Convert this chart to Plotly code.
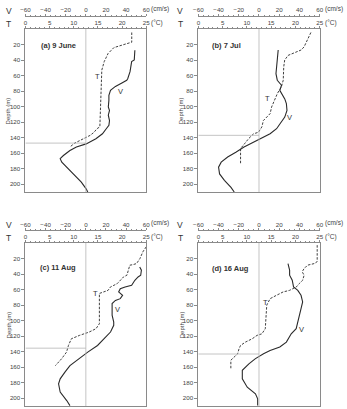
import plotly.graph_objects as go

# ---------------- data ----------------
panel_titles = ["(a) 9 June", "(b) 7 Jul", "(c) 11 Aug", "(d) 16 Aug"]

T_a_depth = [4.5, 17, 19.6, 24, 31.6, 42, 53, 75, 92, 113, 126, 128.5, 133, 137, 141.4, 147, 152]
T_a = [22, 22, 20.6, 18.3, 17.1, 16.3, 15.8, 15.7, 15.6, 15.5, 15.4, 14.8, 14.2, 13.4, 11.9, 10.2, 9.2]
V_a_depth = [27.3, 40, 42, 49, 55, 64, 66, 69.5, 74, 79, 85.5, 92, 100.5, 105, 111, 118, 124,
             128.5, 135, 141.4, 148, 152, 156.5, 163, 167, 171.6, 178, 189, 197.4, 206, 210]
V_a = [48.7, 48.1, 45.5, 44.8, 43.9, 41.6, 40.6, 35.8, 29.4, 24.5, 22.9, 22.9, 22.3, 23.5, 22.3, 23.5, 22.9,
       20.3, 16.5, 10, 0.3, -9.4, -15.8, -22.3, -25.5, -23.9, -19, -11, -4.5, 0.3, 1.9]

T_b_depth = [4.5, 10, 16.5, 23, 27, 31, 34, 40, 49, 66, 74.7, 83, 92, 100.5, 109, 113, 118, 126,
             133, 135, 141, 148, 154, 161, 174]
T_b = [23.2, 22.8, 22.3, 21.8, 21.2, 19.8, 18.5, 17.8, 17.6, 17.5, 17.1, 16.3, 15.6, 15.1, 14.8, 14.1,
       13.4, 13.1, 12.4, 11.4, 10.4, 9.5, 8.7, 8.7, 8.7]
V_b_depth = [27, 40, 57.5, 66, 72.5, 79, 83, 90, 96, 105, 113.5, 120, 128.5, 135, 141.4, 146, 152,
             158.7, 165, 171.6, 178, 186.7, 195, 204, 210]
V_b = [19, 18.1, 16.8, 18.1, 22.3, 20.6, 22.3, 25.5, 27.1, 27.7, 25.5, 22.3, 17.4, 11, 1.3, -5.2, -14.8,
       -22.9, -31, -37.4, -40, -39, -34.2, -27.7, -24.5]

T_c_depth = [4.9, 11.4, 20, 26.5, 27.8, 28.6, 35, 41.5, 43.7, 48, 52.3, 54.5, 56.6, 61, 63, 65, 80,
             97.5, 104, 110.4, 114.7, 119, 123.4, 132, 140.6, 149, 155.7, 158]
T_c = [25, 24.3, 23.7, 23, 22.3, 21.6, 21.3, 21, 20.3, 19.6, 19, 18.3, 17.6, 17.1, 15.9, 15.3, 15.3,
       15.3, 15.3, 14.6, 13.2, 11.2, 9.5, 8.9, 8.5, 7.5, 6.5, 6.2]
V_c_depth = [30.8, 35, 41.5, 43.7, 48, 54.5, 56.6, 58.8, 63, 67.4, 71.7, 74, 78, 93, 102, 106, 114.7,
             123.4, 132, 140.6, 149, 158, 166, 175, 181.5, 192, 203, 209.5]
V_c = [53.5, 55.2, 54.5, 51.9, 48.7, 45.5, 39, 34.2, 32.6, 36.5, 34.2, 29.4, 26.1, 26.1, 27.7, 27.7,
       24.5, 18, 11.6, 1.9, -6.1, -15.8, -20.6, -25.5, -27.1, -25.5, -19, -15.8]

T_d_depth = [2.8, 15.7, 24, 26.5, 28.6, 33, 37, 41.5, 48, 52.3, 56.6, 61, 63, 67.4, 71.7, 80, 97.5,
             110.4, 117, 119, 123.4, 127.7, 132, 136, 142.7, 147, 151, 162]
T_d = [24.5, 24.5, 24.5, 23.9, 22.5, 21.8, 21.4, 21.8, 21.5, 20.8, 20.2, 18.8, 17.5, 16.1, 14.8, 14.1,
       14, 13.8, 13.1, 12.1, 11.1, 9.7, 8.7, 8.4, 8.1, 7.4, 6.7, 6.7]
V_d_depth = [26.5, 35, 41.5, 48, 56.6, 61, 67.4, 76, 84.6, 93, 102, 110.4, 117, 123.4, 127.7, 134,
             138.4, 142.7, 149, 155.7, 164, 175, 185.8, 194.4, 200.8, 209.5]
V_d = [28.7, 30.3, 30.3, 32.9, 34.2, 38.4, 41.6, 43.2, 41.6, 40, 38.4, 36.8, 31.9, 28.7, 27.1, 20.6,
       11, 4.5, -3.5, -10, -16.5, -16.5, -11.6, -3.5, -1.3, -1.3]

# depth where V changes sign (reference line)
zero_depth = [147, 137, 135.5, 143]
# position of the "T" and "V" curve labels (V units, depth)
T_label = [(11.6, 61), (8.4, 89.8), (9.4, 65), (6.1, 76.8)]
V_label = [(34.2, 80), (30.3, 113.5), (31.9, 86), (41.6, 111)]

V_ticks = [-60, -40, -20, 0, 20, 40, 60]
T_ticks = [0, 5, 10, 15, 20, 25]
depth_ticks = [20, 40, 60, 80, 100, 120, 140, 160, 180, 200]

T_series = [(T_a, T_a_depth), (T_b, T_b_depth), (T_c, T_c_depth), (T_d, T_d_depth)]
V_series = [(V_a, V_a_depth), (V_b, V_b_depth), (V_c, V_c_depth), (V_d, V_d_depth)]

# ---------------- layout ----------------
W, H = 347, 409
FONT = "Liberation Sans, Arial, sans-serif"
AX = "#8a8a8a"
TXT = "#444444"
LINE = "#2a2a2a"
FS = 6.2

xdom = [[21 / W, 145 / W], [198.5 / W, 323 / W]]
ydom = [[1 - 192 / H, 1 - 29 / H], [1 - 406 / H, 1 - 243 / H]]
vpos = [1 - 15.5 / H, 1 - 230 / H]
vlab_y = [10.5, 224.5]
tlab_y = [24, 238.3]
title_xy = [(55, 45.7), (227, 45.7), (54, 267), (232, 268)]
letter_x = [4, 180]

fig = go.Figure()
layout = dict(width=W, height=H, margin=dict(l=0, r=0, t=0, b=0),
              paper_bgcolor="white", plot_bgcolor="white", showlegend=False,
              font=dict(family=FONT, size=FS, color=TXT))
annotations = []
shapes = []


def sfx(n):
    return "" if n == 1 else str(n)


for i in range(4):
    col, row = i % 2, i // 2
    tx = "x" + sfx(2 * i + 1)
    vx = "x" + sfx(2 * i + 2)
    yy = "y" + sfx(i + 1)
    tkey = "xaxis" + sfx(2 * i + 1)
    vkey = "xaxis" + sfx(2 * i + 2)
    ykey = "yaxis" + sfx(i + 1)

    layout[tkey] = dict(domain=xdom[col], anchor=yy, side="top", range=[0, 25],
                        tickvals=T_ticks, ticks="outside", ticklen=2, tickcolor=AX,
                        showline=True, linecolor=AX, linewidth=1, mirror=True,
                        showgrid=False, zeroline=False, ticklabelstandoff=-1,
                        tickfont=dict(size=FS, color=TXT),
                        minor=dict(dtick=1, ticks="outside", ticklen=1, tickcolor=AX))
    layout[vkey] = dict(overlaying=tx, anchor="free", position=vpos[row], side="top",
                        range=[-60, 60], tickvals=V_ticks, ticks="outside", ticklen=2,
                        tickcolor=AX, showline=True, linecolor=AX, linewidth=1,
                        showgrid=False, zeroline=False, ticklabelstandoff=-1,
                        tickfont=dict(size=FS, color=TXT),
                        minor=dict(dtick=5, ticks="outside", ticklen=1, tickcolor=AX))
    layout[ykey] = dict(domain=ydom[row], anchor=tx, range=[210, 0], tickvals=depth_ticks,
                        ticks="outside", ticklen=3, tickcolor=AX, showline=True,
                        linecolor=AX, linewidth=1, mirror=True, showgrid=False,
                        zeroline=False, tickfont=dict(size=FS, color=TXT))

    Tv, Td = T_series[i]
    Vv, Vd = V_series[i]
    fig.add_trace(go.Scatter(x=Tv, y=Td, xaxis=tx, yaxis=yy, mode="lines",
                             line=dict(color=LINE, width=0.9, dash="2.5px,1.5px")))
    fig.add_trace(go.Scatter(x=Vv, y=Vd, xaxis=vx, yaxis=yy, mode="lines",
                             line=dict(color=LINE, width=1.1)))

    # reference lines: V = 0 and zero-crossing depth
    shapes.append(dict(type="line", xref=vx, yref=f"{yy} domain", x0=0, x1=0, y0=0, y1=1,
                       line=dict(color="#b5b5b5", width=0.8)))
    shapes.append(dict(type="line", xref=vx, yref=yy, x0=-60, x1=0,
                       y0=zero_depth[i], y1=zero_depth[i],
                       line=dict(color="#b5b5b5", width=0.8)))

    # unit labels
    annotations.append(dict(text="(cm/s)", xref=vx, yref="paper", x=60, xanchor="left", xshift=3,
                            y=1 - vlab_y[row] / H, yanchor="middle", yshift=1.5, showarrow=False,
                            font=dict(size=FS + 0.3, color=TXT)))
    annotations.append(dict(text="(°C)", xref=tx, yref="paper", x=25, xanchor="left", xshift=3,
                            y=1 - tlab_y[row] / H, yanchor="middle", yshift=1.5, showarrow=False,
                            font=dict(size=FS + 0.3, color=TXT)))
    # axis letters
    annotations.append(dict(text="V", xref="paper", yref="paper", x=letter_x[col] / W,
                            y=1 - vlab_y[row] / H, xanchor="center", yanchor="middle",
                            showarrow=False, font=dict(size=8.5, color="#333")))
    annotations.append(dict(text="T", xref="paper", yref="paper", x=letter_x[col] / W,
                            y=1 - tlab_y[row] / H, xanchor="center", yanchor="middle",
                            showarrow=False, font=dict(size=8.5, color="#333")))
    # panel title
    annotations.append(dict(text=f"<b>{panel_titles[i]}</b>", xref="paper", yref="paper",
                            x=title_xy[i][0] / W, y=1 - title_xy[i][1] / H,
                            xanchor="center", yanchor="middle", showarrow=False,
                            font=dict(size=7.5, color="#333")))
    # depth title
    annotations.append(dict(text="Depth (m)", xref="paper", yref="paper",
                            x=(4 + 177.5 * col) / W, y=sum(ydom[row]) / 2, textangle=-90,
                            xanchor="center", yanchor="middle", showarrow=False,
                            font=dict(size=6, color=TXT)))
    # curve labels
    annotations.append(dict(text="T", xref=vx, yref=yy, x=T_label[i][0], y=T_label[i][1],
                            showarrow=False, font=dict(size=7.5, color="#333")))
    annotations.append(dict(text="V", xref=vx, yref=yy, x=V_label[i][0], y=V_label[i][1],
                            showarrow=False, font=dict(size=7.5, color="#333")))

layout["annotations"] = annotations
layout["shapes"] = shapes
fig.update_layout(**layout)
fig.write_html("out.html")
